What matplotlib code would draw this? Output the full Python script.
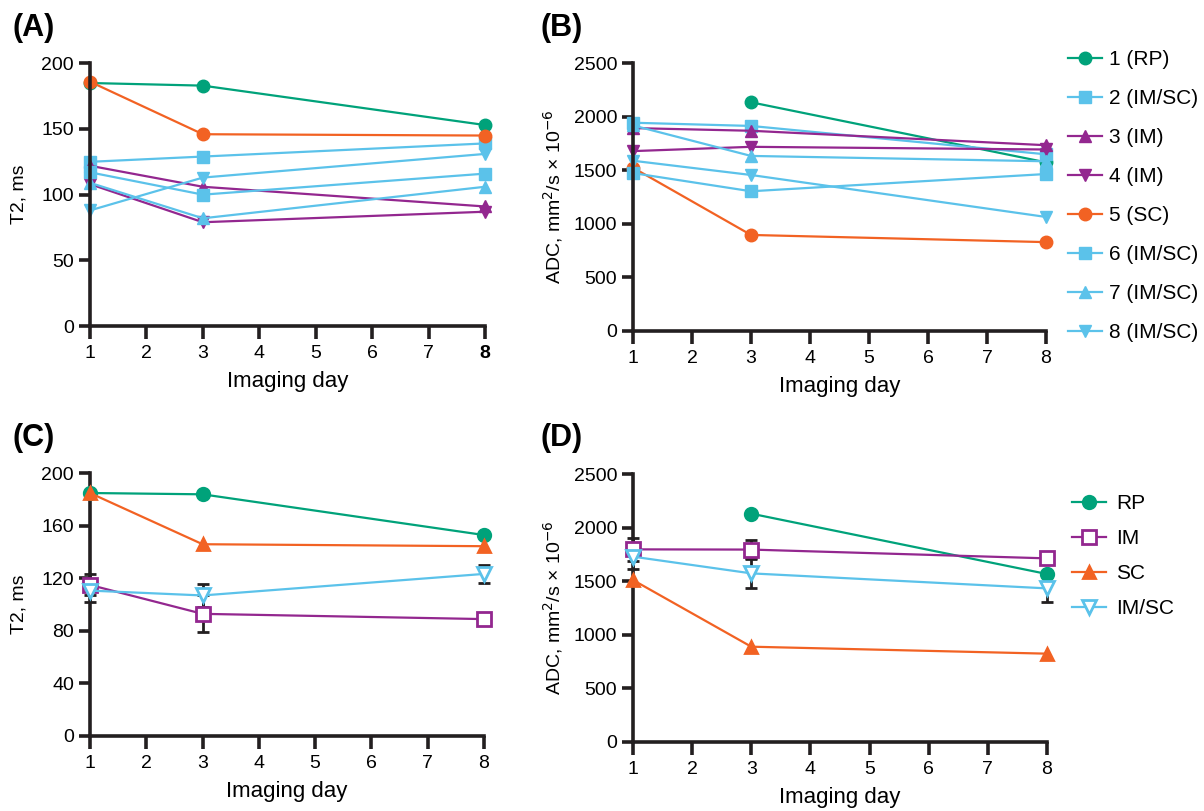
import numpy as np
import matplotlib
matplotlib.use("Agg")
import matplotlib.pyplot as plt

plt.rcParams['font.family'] = ['Liberation Sans', 'DejaVu Sans']

days = [1, 3, 8]

# individual animals, T2 (ms)
t2_1 = [185, 183, 153]
t2_2 = [125, 129, 139]
t2_3 = [122, 106, 91]
t2_4 = [108, 79, 87]
t2_5 = [186, 146, 145]
t2_6 = [117, 100, 116]
t2_7 = [109, 82, 106]
t2_8 = [88, 113, 131]

# individual animals, ADC
adc_1 = [np.nan, 2136, 1575]
adc_2 = [1945, 1915, 1650]
adc_3 = [1895, 1870, 1735]
adc_4 = [1680, 1720, 1695]
adc_5 = [1525, 897, 830]
adc_6 = [1475, 1305, 1466]
adc_7 = [1920, 1635, 1585]
adc_8 = [1590, 1457, 1065]

ind_labels = ['1 (RP)', '2 (IM/SC)', '3 (IM)', '4 (IM)', '5 (SC)',
              '6 (IM/SC)', '7 (IM/SC)', '8 (IM/SC)']

# groups
t2_rp = [185, 184, 153]
t2_im = [115, 93, 89]
t2_sc = [185, 146, 144.5]
t2_imsc = [110.7, 107, 123.4]
t2_im_err = [8, 14, 0]
t2_imsc_err = [9, 9, 7]

adc_rp = [np.nan, 2130, 1567]
adc_im = [1797, 1795, 1713]
adc_sc = [1511, 889, 824]
adc_imsc = [1729, 1573, 1433]
adc_im_err = [110, 85, 0]
adc_imsc_err = [115, 140, 125]

grp_labels = ['RP', 'IM', 'SC', 'IM/SC']

green = '#00A27A'
blue = '#5BC2EA'
purple = '#93278F'
orange = '#F26223'

ind_styles = [(green, 'o'), (blue, 's'), (purple, '^'), (purple, 'v'),
              (orange, 'o'), (blue, 's'), (blue, '^'), (blue, 'v')]

fig = plt.figure(figsize=(12.04, 8.11), dpi=100)
W, H = 1204, 811


def make_ax(x0, x1, ytop, ybot):
    return fig.add_axes([x0 / W, (H - ybot) / H, (x1 - x0) / W, (ybot - ytop) / H])


def style(ax, ymax, ystep):
    ax.set_xlim(1, 8)
    ax.set_ylim(0, ymax)
    ax.set_xticks(range(1, 9))
    ax.set_yticks(np.arange(0, ymax + 1, ystep))
    for s in ['top', 'right']:
        ax.spines[s].set_visible(False)
    for s in ['left', 'bottom']:
        ax.spines[s].set_linewidth(2.6)
        ax.spines[s].set_color('#231F20')
    ax.tick_params(width=2.6, length=8, labelsize=14, color='#231F20')
    ax.tick_params(axis='x', length=9, pad=5)
    ax.set_xlabel('Imaging day', fontsize=16, labelpad=6)


axA = make_ax(90, 485, 63.3, 326)
axB = make_ax(633, 1046, 63.3, 331)
axC = make_ax(90, 484, 473.3, 736)
axD = make_ax(633, 1047, 474, 742)

t2_ind = [t2_1, t2_2, t2_3, t2_4, t2_5, t2_6, t2_7, t2_8]
adc_ind = [adc_1, adc_2, adc_3, adc_4, adc_5, adc_6, adc_7, adc_8]

for vals, (c, m), lab in zip(t2_ind, ind_styles, ind_labels):
    axA.plot(days, vals, color=c, marker=m, ms=9, lw=1.6, clip_on=False, label=lab)
for vals, (c, m), lab in zip(adc_ind, ind_styles, ind_labels):
    axB.plot(days, vals, color=c, marker=m, ms=9, lw=1.6, clip_on=False, label=lab)

grp_styles = [(green, 'o', green), (purple, 's', 'white'),
              (orange, '^', orange), (blue, 'v', 'white')]


def group_panel(ax, series, errs):
    for i, (vals, (c, m, fc), lab) in enumerate(zip(series, grp_styles, grp_labels)):
        err = errs.get(i)
        if err is not None:
            d = [x for x, e in zip(days, err) if e > 0]
            v = [y for y, e in zip(vals, err) if e > 0]
            e2 = [e for e in err if e > 0]
            ax.errorbar(d, v, yerr=e2, fmt='none', ecolor='#231F20',
                        elinewidth=2, capsize=4.5, capthick=2, clip_on=False, zorder=2)
        ax.plot(days, vals, color=c, marker=m, ms=9 if fc != 'white' else 10,
                mfc=fc, mew=2, lw=1.6, clip_on=False, label=lab, zorder=3)
    ax.axhline(0, color='#999999', lw=1, ls=':', zorder=1)


group_panel(axC, [t2_rp, t2_im, t2_sc, t2_imsc], {1: t2_im_err, 3: t2_imsc_err})
group_panel(axD, [adc_rp, adc_im, adc_sc, adc_imsc], {1: adc_im_err, 3: adc_imsc_err})

style(axA, 200, 50)
style(axB, 2500, 500)
style(axC, 200, 40)
style(axD, 2500, 500)

axA.get_xticklabels()[-1].set_fontweight('bold')

for ax in [axA, axC]:
    ax.set_ylabel('T2, ms', fontsize=14, labelpad=10)
for ax in [axB, axD]:
    ax.set_ylabel('ADC, mm$^2$/s × 10$^{-6}$', fontsize=14, labelpad=6)

for lab, x, y in [('(A)', 12, 28), ('(B)', 540, 28),
                  ('(C)', 12, 438), ('(D)', 540, 438)]:
    fig.text(x / W, 1 - y / H, lab, fontsize=22, fontweight='bold', ha='left', va='center')

axB.legend(loc='upper left', bbox_to_anchor=(1060 / W, 1 - 42 / H),
           bbox_transform=fig.transFigure, frameon=False, fontsize=15,
           handlelength=1.6, labelspacing=0.96, handletextpad=0.35, borderaxespad=0)
axD.legend(loc='upper left', bbox_to_anchor=(1064 / W, 1 - 486 / H),
           bbox_transform=fig.transFigure, frameon=False, fontsize=15,
           handlelength=1.6, labelspacing=0.76, handletextpad=0.5, borderaxespad=0)

fig.savefig('out.png', dpi=100)
